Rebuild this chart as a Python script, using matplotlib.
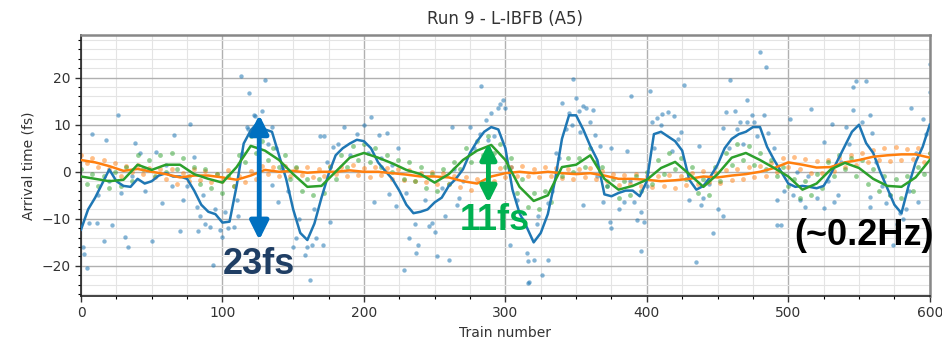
import numpy as np
import matplotlib
matplotlib.use("Agg")
import matplotlib.pyplot as plt
from matplotlib.ticker import MultipleLocator

# ---------------- data ----------------
title = "Run 9 - L-IBFB (A5)"
xlabel = "Train number"
ylabel = "Arrival time (fs)"

# smoothed blue line, every 5 trains (0..600)
blue_line = [-12.3, -8, -5.5, -2.5, 0.5, -2, -3, -3.2, -1.5, -2.5,
             -2, -0.8, -0.3, -1, -1, -1.5, -4, -7, -8.5, -9,
             -10.8, -10.6, -3, 6, 8.8, 10.5, 9, 8.5, 3.5, -1.5,
             -8, -13, -14.5, -11, -5.5, -0.5, 3.5, 5, 6, 6.8,
             6.5, 5, 2, 0.2, -1.5, -4, -7, -8.8, -8.5, -8,
             -6.5, -5.5, -3, -1.5, 0.5, 4, 6.5, 8.5, 9.5, 9,
             5, -3.8, -8.8, -11.7, -15, -13, -9, -2, 7, 12,
             12, 9, 5.5, 2.5, -4.8, -5.2, -4.5, -4, -4, -5.2,
             -2, 8, 8.5, 7.5, 6.5, 4.5, -1.7, -3.8, -3, -1,
             1.5, 5, 7, 8, 8.5, 9.5, 9.5, 5.3, 2.5, 0,
             -2.5, -3.2, -3, -3.2, -3.5, -3, -0.5, 2.5, 5.5, 8.5,
             10, 6.1, 4, 0, -3.5, -7, -8.8, -3, 2, 5.3, 10]

# smoothed green line, every 10 trains
green_line = [-1, -1.5, -2, -1.7, 1.5, 0.4, 1.5, 1.5, -0.5, -1.5,
              -2.3, 1, 5.5, 4.5, 2.5, -0.5, -3.2, -3, 0, 3,
              4, 3, 1.8, 0.4, -0.5, -2.3, -0.5, 2.5, 4.5, 5.7,
              2.5, -3.2, -6.2, -5, 1, 1.5, 3.5, -1.5, -3.8, -3,
              -1.7, 0.8, 2.1, -0.5, -3.2, -0.5, 3, 4, 2.5, 0.8,
              -1, -3.8, -2.5, 0.5, 1.9, 0.8, -1.5, -3, -3.2, -1.2, 2.5]

# smoothed orange line, every 10 trains
orange_line = [2.5, 2, 1.2, 0.2, 0.6, 0, -0.5, -1.2, -0.8, -0.8,
               -1.2, -1.7, -0.8, 0.4, 0, 0.2, -0.2, 0, 0, 0.3,
               0, 0, -0.3, -0.6, -1, -1, -1.2, -2, -2.5, -1,
               -0.3, 0, -0.3, 0, -0.3, -0.5, -0.3, -0.8, -1.5, -1.5,
               -1.7, -2, -1.8, -1.5, -1, -1.2, -0.8, -0.5, 0, 0.8,
               2, 1.5, 0.9, 1, 2, 2.5, 3.2, 3.5, 3.7, 3.7, 3]

# raw orange points, every 4 trains
orange_pts = [3.5, 1.8, 3.0, 1.0, 2.6, 0.5, 1.8, -0.8, 1.2, 0.0,
              1.5, -0.5, 0.8, -1.2, 0.5, -1.5, 0.6, -2.5, -0.3, -2.0,
              0.5, -1.8, 0.2, -2.2, -0.5, -2.0, 0.3, -3.0, -1.0, -2.2,
              0.2, -1.5, 1.2, -0.5, 1.0, -0.8, 1.3, -1.0, 0.8, -0.6,
              1.0, -1.2, 0.6, -0.8, 1.2, -0.5, 1.0, -0.8, 1.5, -0.6,
              0.8, -1.2, 1.0, -0.6, 0.9, -1.5, 0.5, -1.8, 0.3, -2.0,
              -0.2, -2.2, 0.0, -2.5, -0.3, -2.6, -1.0, -3.2, -1.2, -3.8,
              -1.5, -3.2, -0.2, -2.0, 0.8, -1.2, 1.0, -0.8, 1.2, -1.0,
              0.6, -1.2, 1.0, -1.0, 0.8, -1.4, 0.6, -1.5, 0.5, -1.2,
              0.8, -1.6, 0.2, -2.0, -0.5, -2.8, -0.6, -2.5, -0.4, -3.0,
              -0.8, -3.2, -1.0, -3.0, -0.6, -3.4, -0.8, -2.8, -0.2, -2.5,
              0.2, -2.2, 0.0, -2.4, 0.3, -1.8, 0.6, -1.6, 1.0, -1.2,
              1.2, -0.8, 1.8, 0.0, 3.0, 1.0, 3.2, 0.5, 2.8, -0.2,
              2.2, -0.3, 2.4, 0.2, 3.0, 1.0, 3.6, 1.4, 4.0, 2.0,
              4.6, 2.4, 5.0, 2.2, 5.2, 2.6, 4.8, 2.8, 5.0, 2.0, 4.0]

# raw green points, every 4 trains
green_pts = [0.5, -2.5, -0.5, -3.0, -1.0, -3.5, 0.0, -3.0, 1.0, -2.0,
             3.5, 0.5, 2.5, -1.0, 3.5, 0.0, 4.0, 0.5, 3.0, -1.0,
             1.0, -2.5, 0.5, -3.5, -0.5, -4.5, -1.0, -3.0, 3.5, 2.0,
             7.5, 4.0, 6.5, 2.5, 5.0, 1.0, 3.5, -1.5, 1.0, -4.0,
             -1.5, -5.0, -1.5, -4.5, 1.0, -1.5, 3.5, 1.0, 5.5, 2.5,
             6.0, 2.0, 5.0, 1.0, 3.5, 0.0, 2.5, -1.5, 2.0, -2.0,
             1.0, -3.5, -0.5, -4.0, 0.5, -2.5, 2.0, 0.5, 5.0, 2.0,
             6.5, 3.5, 7.5, 4.0, 6.0, 1.0, 3.0, -4.5, -1.5, -7.5,
             -4.5, -8.0, -4.0, -6.5, 0.0, -1.0, 3.0, 0.0, 3.0, 1.0,
             5.0, 2.0, 1.0, -3.0, -1.5, -5.5, -2.0, -5.0, -1.0, -4.0,
             0.0, -2.5, 2.5, -0.5, 4.0, 0.5, 3.0, -1.5, 1.0, -4.5,
             -1.5, -5.0, 1.0, -2.0, 4.0, 1.5, 6.0, 2.5, 5.5, 1.5,
             4.0, 0.5, 2.5, -1.0, 1.0, -3.0, -1.5, -5.5, -2.0, -5.0,
             -0.5, -3.5, 2.0, -1.0, 3.5, 0.5, 3.0, -1.0, 2.5, -2.5,
             0.5, -4.0, -1.0, -5.0, -1.5, -5.5, -1.0, -4.0, 1.0, -0.5, 4.0]

# raw blue points (train number, arrival time)
blue_x = [1.5, 2, 4.5, 6, 7.5, 11, 16, 18, 22, 26, 31, 33, 38, 42, 50, 53, 57, 66, 70, 72,
          77, 80, 82, 83, 84, 88, 91, 93, 98, 100, 104, 108, 111, 113, 117, 119, 122, 123, 130, 135,
          135, 139, 150, 152, 158, 160, 162, 163, 166, 169, 171, 172, 176, 178, 186, 200, 205, 207, 211, 216,
          218, 223, 224, 228, 232, 237, 238, 248, 250, 252, 257, 260, 262, 266, 267, 275, 282, 283, 288, 290,
          295, 296, 298, 300, 303, 315, 316, 316, 317, 320, 323, 326, 330, 330, 336, 340, 345, 348, 350, 352,
          355, 355, 357, 362, 363, 367, 369, 374, 375, 375, 384, 386, 389, 391, 393, 396, 396, 398, 402, 404,
          407, 411, 415, 419, 424, 426, 435, 437, 440, 447, 454, 454, 456, 459, 462, 466, 471, 471, 474, 480,
          483, 484, 486, 492, 492, 495, 501, 508, 512, 516, 525, 525, 531, 532, 535, 541, 546, 546, 548, 555,
          558, 558, 558, 559, 569, 574, 579, 583, 587, 592, 595, 600, 600,
          12, 20, 28, 36, 45, 60, 64, 75, 86, 95, 102, 110, 114, 118, 126, 128, 132, 138, 142, 146,
          154, 165, 174, 182, 190, 195, 203, 212, 220, 230, 236, 243, 246, 255, 264, 270, 278, 286, 292, 304,
          308, 312, 322, 333, 338, 343, 347, 353, 360, 365, 372, 380, 388, 400, 405, 410, 418, 422, 430, 438,
          444, 450, 458, 464, 468, 476, 478, 490, 497, 503, 506, 514, 520, 528, 537, 543, 552, 562, 566, 572,
          577, 581, 585, 590, 597]
blue_y = [-16, -17.5, -20.4, -10.9, 8, -10.9, -14.7, 6.8, -11.3, 12, -13.8, -16, 6.1, 4, -14.7, 4.3, -6.6, 7.8, -12.6, -6,
          10.2, 3.2, -7.4, -12.6, -9.5, -11, -11.7, -19.8, -12.3, -13.8, -12, -11.7, -9.5, 20.4, 9.6, 16.8, 12.1, 11.9, 19.4, 9.6,
          -2.8, -6.4, -16, -14, -17.7, -16, -23, -15.5, -14, 7.5, -15.5, 7.5, -10.6, 5.3, 9.6, 10, 11.7, -6.4, 7.9, 8.2,
          -4.8, -7.3, 5.1, -20.8, -14, -17.2, -15.6, -10.9, -12.8, -17.9, -9.4, -18.7, 9.6, -7, -5.5, 9.6, 8, 18.3, 6.8, 12.5,
          13.6, 14.5, 15.3, 13.6, -15.5, -17.2, -19, -23.6, -23.5, -18.7, -9.5, -21.9, -18.7, -6.6, 4, 14.7, 12.5, 19.8, 15.7, 13,
          14, -7, 13.6, 13.2, 7.9, 5.5, -6.4, -10.6, -12, 5, -6.4, 4.5, 16.2, -6.4, -10.2, -8.5, -16.8, -10.6, 17.2, 10.6,
          11.5, 12.3, 12.8, 11.9, 8.5, 18.5, -19.1, 5.5, -5.5, -13, 9.4, -9.5, 12.8, 19.4, 13, 10.6, 15.3, 10.6, 12, 25.5,
          12, 22.3, 8.2, -11.3, -5.9, -11.3, 11.3, -6, -7.4, 13.4, 6.4, -7.6, 10.2, -6.4, -5, 9.6, 18, 13.2, 19.2, 19.2,
          12, -5.3, -7.5, 8.2, -6.6, -15.5, -8.8, -7.9, 13.6, -6.4, 11.3, 17, 22.8,
          -5, -2, -4.5, -1, -4, 1.5, -3, -3, -5, -8, -8.5, -6, 4, 9, 8, 13, 6, 5, 0.5, -4,
          -10, -8, 2, 6, 3.5, 8, 4, 3, 1.5, -4.5, -11, -6, -11.5, -3.5, 0.5, -2, 5, 11, 7.5, 1,
          -6, -10, -11, -4, 3, 9, 10, 8.5, 10.5, -1, -3, -8, -2, -3, 5, 10, 4.5, 7, -6, -7,
          -2.5, -8, 5, 9, 6, 10.5, 7.5, 5, -4, -5, 0, -1, -5.5, -2, 2, 6, 10.5, 2, -3, -5,
          -11, -10, -4, 4, 8]

# annotations
blue_arrow = (126, 12.1, -14.5)
green_arrow = (288, 6.1, -6.6)
label_blue = "23fs"
label_green = "11fs"
label_freq = "(~0.2Hz)"

# ---------------- plotting ----------------
C_BLUE, C_ORANGE, C_GREEN = "#1f77b4", "#ff7f0e", "#2ca02c"

fig = plt.figure(figsize=(9.42, 3.45), dpi=100)
ax = fig.add_axes([0.086, 0.142, 0.901, 0.757])

t_blue = np.linspace(0, 600, len(blue_line))
t_green = np.linspace(0, 600, len(green_line))
t_orange = np.linspace(0, 600, len(orange_line))
t_opts = np.linspace(0, 600, len(orange_pts))
t_gpts = np.linspace(0, 600, len(green_pts))

ax.scatter(blue_x, blue_y, s=10, color=C_BLUE, alpha=0.55, lw=0, zorder=2)
ax.scatter(t_opts, orange_pts, s=12, color=C_ORANGE, alpha=0.5, lw=0, zorder=2)
ax.scatter(t_gpts, green_pts, s=12, color=C_GREEN, alpha=0.5, lw=0, zorder=2)

ax.plot(t_blue, blue_line, color=C_BLUE, lw=1.8, zorder=3)
ax.plot(t_orange, orange_line, color=C_ORANGE, lw=1.8, zorder=3)
ax.plot(t_green, green_line, color=C_GREEN, lw=1.8, zorder=3)

ax.set_xlim(0, 600)
ax.set_ylim(-26.4, 29.1)
ax.xaxis.set_major_locator(MultipleLocator(100))
ax.xaxis.set_minor_locator(MultipleLocator(25))
ax.yaxis.set_major_locator(MultipleLocator(10))
ax.yaxis.set_minor_locator(MultipleLocator(2))
ax.grid(which="major", color="#b0b0b0", lw=1.0, zorder=0)
ax.grid(which="minor", color="#e4e4e4", lw=0.8, zorder=0)
ax.set_axisbelow(True)
ax.tick_params(which="major", direction="out", length=4, width=1, labelsize=10, colors="#333333")
ax.tick_params(which="minor", direction="out", length=2, width=0.8)
for s in ["left", "bottom"]:
    ax.spines[s].set_color("#222222")
    ax.spines[s].set_linewidth(1.2)
for s in ["top", "right"]:
    ax.spines[s].set_color("#888888")
    ax.spines[s].set_linewidth(1.8)

ax.set_title(title, fontsize=12, color="#333333", pad=8)
ax.set_xlabel(xlabel, fontsize=10, color="#333333", labelpad=4)
ax.set_ylabel(ylabel, fontsize=10, color="#333333")

astyle = "<|-|>,head_length=0.8,head_width=0.4"
bt, btop, bbot = blue_arrow
ax.annotate("", xy=(bt, btop), xytext=(bt, bbot),
            arrowprops=dict(arrowstyle=astyle, lw=3.5,
                            color="#0070C0", shrinkA=0, shrinkB=0, mutation_scale=14),
            zorder=5)
gt, gtop, gbot = green_arrow
ax.annotate("", xy=(gt, gtop), xytext=(gt, gbot),
            arrowprops=dict(arrowstyle=astyle, lw=3.5,
                            color="#00B050", shrinkA=0, shrinkB=0, mutation_scale=12),
            zorder=5)

bold = dict(family=["Liberation Sans", "DejaVu Sans"], fontweight="bold", fontsize=26)
ax.text(126, -19.8, label_blue, color="#1F3E64", ha="center", va="center", zorder=6, **bold)
ax.text(292.5, -10.4, label_green, color="#00B050", ha="center", va="center", zorder=6, **bold)
ax.text(603, -13.5, label_freq, color="black", ha="right", va="center", zorder=6, clip_on=False, **bold)

fig.savefig("out.png", dpi=100)
